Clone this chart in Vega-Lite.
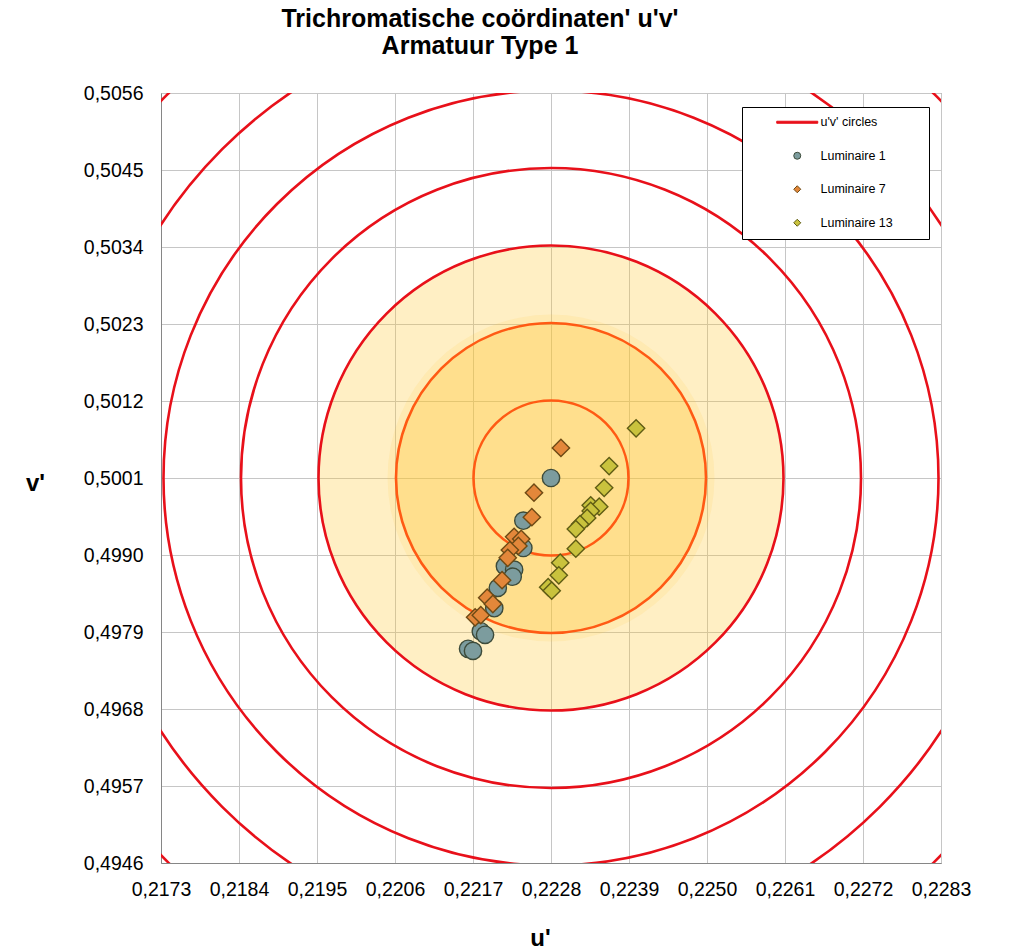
{
  "$schema": "https://vega.github.io/schema/vega-lite/v6.json",
  "width": 780,
  "height": 770,
  "autosize": {"type": "none"},
  "padding": {"left": 161, "top": 93, "right": 69, "bottom": 89},
  "background": "white",
  "title": {
    "text": ["Trichromatische coördinaten' u'v'", "Armatuur  Type 1"],
    "fontSize": 25,
    "fontWeight": "bold",
    "font": "Liberation Sans",
    "color": "black",
    "anchor": "middle",
    "frame": "group",
    "dx": -71,
    "offset": 24.5,
    "lineHeight": 27
  },
  "datasets": {
    "zones": [
      {"u": 0.2228, "v": 0.5001, "r": 0.0033},
      {"u": 0.2228, "v": 0.5001, "r": 0.0022}
    ],
    "glow": [
      {"u": 0.2228, "v": 0.5001, "r": 0.00232}
    ],
    "rings": [
      {"u": 0.2228, "v": 0.5001, "r": 0.0011},
      {"u": 0.2228, "v": 0.5001, "r": 0.0022},
      {"u": 0.2228, "v": 0.5001, "r": 0.0033},
      {"u": 0.2228, "v": 0.5001, "r": 0.0044},
      {"u": 0.2228, "v": 0.5001, "r": 0.0055},
      {"u": 0.2228, "v": 0.5001, "r": 0.0066},
      {"u": 0.2228, "v": 0.5001, "r": 0.0077}
    ],
    "points": [
      {"series": "Luminaire 1", "u": 0.22280, "v": 0.50010},
      {"series": "Luminaire 1", "u": 0.22241, "v": 0.49949},
      {"series": "Luminaire 1", "u": 0.22241, "v": 0.49910},
      {"series": "Luminaire 1", "u": 0.22215, "v": 0.49884},
      {"series": "Luminaire 1", "u": 0.22228, "v": 0.49879},
      {"series": "Luminaire 1", "u": 0.22226, "v": 0.49869},
      {"series": "Luminaire 1", "u": 0.22205, "v": 0.49853},
      {"series": "Luminaire 1", "u": 0.22200, "v": 0.49824},
      {"series": "Luminaire 1", "u": 0.22181, "v": 0.49791},
      {"series": "Luminaire 1", "u": 0.22187, "v": 0.49786},
      {"series": "Luminaire 1", "u": 0.22163, "v": 0.49766},
      {"series": "Luminaire 1", "u": 0.22170, "v": 0.49763},
      {"series": "Luminaire 7", "u": 0.22294, "v": 0.50053},
      {"series": "Luminaire 7", "u": 0.22256, "v": 0.49989},
      {"series": "Luminaire 7", "u": 0.22253, "v": 0.49954},
      {"series": "Luminaire 7", "u": 0.22228, "v": 0.49926},
      {"series": "Luminaire 7", "u": 0.22238, "v": 0.49923},
      {"series": "Luminaire 7", "u": 0.22234, "v": 0.49913},
      {"series": "Luminaire 7", "u": 0.22222, "v": 0.49907},
      {"series": "Luminaire 7", "u": 0.22219, "v": 0.49896},
      {"series": "Luminaire 7", "u": 0.22211, "v": 0.49864},
      {"series": "Luminaire 7", "u": 0.22190, "v": 0.49839},
      {"series": "Luminaire 7", "u": 0.22198, "v": 0.49830},
      {"series": "Luminaire 7", "u": 0.22173, "v": 0.49811},
      {"series": "Luminaire 7", "u": 0.22181, "v": 0.49814},
      {"series": "Luminaire 13", "u": 0.22400, "v": 0.50081},
      {"series": "Luminaire 13", "u": 0.22362, "v": 0.50027},
      {"series": "Luminaire 13", "u": 0.22355, "v": 0.49996},
      {"series": "Luminaire 13", "u": 0.22336, "v": 0.49971},
      {"series": "Luminaire 13", "u": 0.22348, "v": 0.49969},
      {"series": "Luminaire 13", "u": 0.22336, "v": 0.49963},
      {"series": "Luminaire 13", "u": 0.22331, "v": 0.49953},
      {"series": "Luminaire 13", "u": 0.22321, "v": 0.49944},
      {"series": "Luminaire 13", "u": 0.22315, "v": 0.49937},
      {"series": "Luminaire 13", "u": 0.22315, "v": 0.49909},
      {"series": "Luminaire 13", "u": 0.22293, "v": 0.49889},
      {"series": "Luminaire 13", "u": 0.22291, "v": 0.49871},
      {"series": "Luminaire 13", "u": 0.22276, "v": 0.49854},
      {"series": "Luminaire 13", "u": 0.22281, "v": 0.49849}
    ]
  },
  "encoding": {
    "x": {
      "field": "u",
      "type": "quantitative",
      "title": "u'",
      "scale": {"domain": [0.2173, 0.2283], "zero": false, "nice": false},
      "axis": {
        "values": [0.2173, 0.2184, 0.2195, 0.2206, 0.2217, 0.2228, 0.2239, 0.2250, 0.2261, 0.2272, 0.2283],
        "labelExpr": "replace(format(datum.value, '.4f'), '.', ',')",
        "labelPadding": 17.5,
        "labelFlush": false,
        "labelOverlap": false,
        "titleX": 379,
        "titleY": 82,
        "titleAlign": "center",
        "titleBaseline": "alphabetic"
      }
    },
    "y": {
      "field": "v",
      "type": "quantitative",
      "title": "v'",
      "scale": {"domain": [0.4946, 0.5056], "zero": false, "nice": false},
      "axis": {
        "values": [0.4946, 0.4957, 0.4968, 0.4979, 0.4990, 0.5001, 0.5012, 0.5023, 0.5034, 0.5045, 0.5056],
        "labelExpr": "replace(format(datum.value, '.4f'), '.', ',')",
        "labelPadding": 18,
        "labelFlush": false,
        "labelOverlap": false,
        "titleAngle": 0,
        "titleX": -126,
        "titleY": 397,
        "titleAlign": "center",
        "titleBaseline": "alphabetic"
      }
    }
  },
  "layer": [
    {
      "data": {"name": "zones"},
      "mark": {"type": "point", "shape": "circle", "filled": true, "fill": "#FFC830", "fillOpacity": 0.285, "opacity": 1, "strokeWidth": 0, "clip": true},
      "encoding": {
        "size": {"field": "r", "type": "quantitative", "scale": {"type": "pow", "exponent": 2, "domain": [0, 0.0077], "range": [0, 1177225]}, "legend": null}
      }
    },
    {
      "data": {"name": "glow"},
      "mark": {"type": "point", "shape": "circle", "filled": true, "fill": "#FFC830", "fillOpacity": 0.12, "opacity": 1, "strokeWidth": 0, "clip": true},
      "encoding": {
        "size": {"field": "r", "type": "quantitative", "scale": {"type": "pow", "exponent": 2, "domain": [0, 0.0077], "range": [0, 1177225]}, "legend": null}
      }
    },
    {
      "data": {"name": "rings"},
      "mark": {"type": "point", "shape": "circle", "filled": false, "strokeWidth": 2.6, "opacity": 1, "clip": true},
      "encoding": {
        "size": {"field": "r", "type": "quantitative", "scale": {"type": "pow", "exponent": 2, "domain": [0, 0.0077], "range": [0, 1177225]}, "legend": null},
        "stroke": {"condition": {"test": "datum.r < 0.003", "value": "#FF5A14"}, "value": "#E8101A"}
      }
    },
    {
      "data": {"name": "points"},
      "mark": {"type": "point", "filled": true, "size": 300, "opacity": 1, "strokeWidth": 1.4},
      "encoding": {
        "fill": {
          "field": "series",
          "type": "nominal",
          "title": null,
          "scale": {"domain": ["u'v' circles", "Luminaire 1", "Luminaire 7", "Luminaire 13"], "range": ["#E8101A", "#7C9C9E", "#E3873A", "#C9C23D"]},
          "legend": {"orient": "none", "legendX": 581, "legendY": 14, "title": null}
        },
        "stroke": {
          "field": "series",
          "type": "nominal",
          "title": null,
          "scale": {"domain": ["u'v' circles", "Luminaire 1", "Luminaire 7", "Luminaire 13"], "range": ["#E8101A", "#3D4B3A", "#6E4A15", "#5F5C14"]},
          "legend": {"orient": "none", "legendX": 581, "legendY": 14, "title": null}
        },
        "shape": {
          "field": "series",
          "type": "nominal",
          "title": null,
          "scale": {"domain": ["u'v' circles", "Luminaire 1", "Luminaire 7", "Luminaire 13"], "range": ["M-5.86,-0.29H5.86V0.29H-5.86Z M34.3,0", "circle", "diamond", "diamond"]},
          "legend": {"orient": "none", "legendX": 581, "legendY": 14, "title": null}
        }
      }
    }
  ],
  "config": {
    "font": "Liberation Sans",
    "view": {"stroke": "#868686", "strokeWidth": 1},
    "axis": {
      "domainColor": "#868686",
      "domainWidth": 1,
      "gridColor": "#C6C6C6",
      "gridWidth": 1,
      "grid": true,
      "ticks": false,
      "labelFont": "Liberation Sans",
      "labelFontSize": 19.5,
      "labelColor": "black",
      "titleFont": "Liberation Sans",
      "titleFontSize": 24,
      "titleFontWeight": "bold",
      "titleColor": "black"
    },
    "legend": {
      "strokeColor": "black",
      "fillColor": "white",
      "padding": 9,
      "symbolOffset": 40,
      "symbolSize": 49,
      "symbolStrokeWidth": 1,
      "rowPadding": 20.5,
      "labelFont": "Liberation Sans",
      "labelFontSize": 12.5,
      "labelColor": "black",
      "labelOffset": 17
    }
  }
}
